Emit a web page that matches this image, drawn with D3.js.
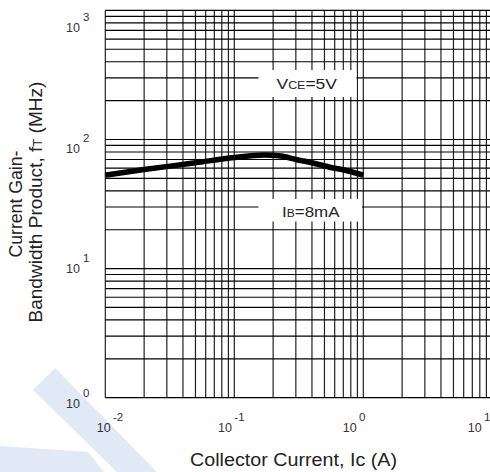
<!DOCTYPE html>
<html>
<head>
<meta charset="utf-8">
<script src="https://cdn.jsdelivr.net/npm/d3@7"></script>
<style>
  html, body { margin: 0; padding: 0; background: #fff; }
  svg { display: block; font-family: Arial, "Liberation Sans", Helvetica, sans-serif; }
</style>
</head>
<body>
<svg id="chart" width="490" height="472"></svg>
<script>
// ---- data ----
const icValues = [0.01, 0.02, 0.05, 0.1, 0.17, 0.23, 0.3, 0.4, 0.55, 0.75, 1.0];   // Collector current (A)
const ftValues = [53, 58.5, 66, 72.5, 76, 74.5, 70, 66, 61, 57.3, 53];               // fT (MHz)
const xTickExps = [-2, -1, 0, 1];
const yTickExps = [0, 1, 2, 3];
const xTitle = "Collector Current, Ic (A)";
const yTitleLine1 = "Current Gain-";
const yTitleLine2 = ["Bandwidth Product, f", "T", " (MHz)"];
const vceLabel = ["V", "CE", "=5V"];
const ibLabel = ["I", "B", "=8mA"];

const svg = d3.select("#chart");

// watermark shapes (light blue background decoration)
const wm = "#e1e8f6";
svg.append("polygon").attr("points", "55,368 33,390 117,472 157,472").attr("fill", wm);
svg.append("polygon").attr("points", "0,446 88,452 104,472 0,472").attr("fill", wm);

const x = d3.scaleLog().domain([0.01, 10]).range([105.3, 492.3]);
const y = d3.scaleLog().domain([1, 1000]).range([397.7, 10.4]);

const [x0, x1] = x.range();
const [yb, yt] = y.range();

const grid = svg.append("g");
// vertical grid lines
grid.selectAll("line.v").data(x.ticks()).join("line")
  .attr("x1", d => x(d)).attr("x2", d => x(d))
  .attr("y1", yt).attr("y2", yb)
  .attr("stroke", "#222").attr("stroke-width", 1.2);
// horizontal grid lines
grid.selectAll("line.h").data(y.ticks()).join("line")
  .attr("x1", x0).attr("x2", x1)
  .attr("y1", d => y(d)).attr("y2", d => y(d))
  .attr("stroke", "#000").attr("stroke-width", 1.2);

// label boxes (white backgrounds)
svg.append("rect").attr("x", 258.5).attr("y", 70).attr("width", 98).attr("height", 27).attr("fill", "#fff");
svg.append("rect").attr("x", 258.5).attr("y", 199).attr("width", 103.5).attr("height", 22.5).attr("fill", "#fff");

// curve
const line = d3.line().x((d, i) => x(icValues[i])).y(d => y(d)).curve(d3.curveMonotoneX);
svg.append("path").datum(ftValues).attr("d", line)
  .attr("fill", "none").attr("stroke", "#000").attr("stroke-width", 5.5).attr("stroke-linecap", "butt");

// labels in chart
function subLabel(parts, xPos, yPos, len) {
  const t = svg.append("text").attr("x", xPos).attr("y", yPos).attr("fill", "#222")
    .attr("textLength", len).attr("lengthAdjust", "spacingAndGlyphs");
  t.append("tspan").attr("font-size", 15.5).text(parts[0]);
  t.append("tspan").attr("font-size", 11).text(parts[1]);
  t.append("tspan").attr("font-size", 15.5).text(parts[2]);
}
subLabel(vceLabel, 276.5, 89, 60.5);
subLabel(ibLabel, 282, 217, 57.5);

// y tick labels
const yLabelDy = {0: 10.6, 1: 4.6, 2: 13.4, 3: 21.6};
yTickExps.forEach(e => {
  const t = svg.append("text").attr("x", 66).attr("y", y(Math.pow(10, e)) + yLabelDy[e]).attr("fill", "#333");
  t.append("tspan").attr("font-size", 12.5).text("10");
  t.append("tspan").attr("font-size", 11.5).attr("dx", 3).attr("dy", -11).text(String(e));
});
// x tick labels
const xLabelDx = {"-2": -8.6, "-1": -16.3, "0": -20.6, "1": -24.6};
xTickExps.forEach(e => {
  const t = svg.append("text").attr("x", x(Math.pow(10, e)) + xLabelDx[e]).attr("y", 431.7).attr("fill", "#333");
  t.append("tspan").attr("font-size", 12.5).text("10");
  t.append("tspan").attr("font-size", 11.5).attr("dx", 2.4).attr("dy", -11).text(String(e));
});

// axis titles
svg.append("text").attr("x", 190).attr("y", 465.5).attr("font-size", 17.5).attr("fill", "#222")
  .attr("textLength", 207).attr("lengthAdjust", "spacingAndGlyphs").text(xTitle);

const yc = (yt + yb) / 2;
svg.append("text").attr("transform", `translate(22,${yc}) rotate(-90)`).attr("text-anchor", "middle")
  .attr("font-size", 17.5).attr("fill", "#222")
  .attr("textLength", 107).attr("lengthAdjust", "spacingAndGlyphs").text(yTitleLine1);
const t2 = svg.append("text").attr("transform", `translate(41.5,${yc - 2}) rotate(-90)`).attr("text-anchor", "middle")
  .attr("font-size", 17.5).attr("fill", "#222")
  .attr("textLength", 241).attr("lengthAdjust", "spacingAndGlyphs");
t2.append("tspan").text(yTitleLine2[0]);
t2.append("tspan").attr("font-size", 12).text(yTitleLine2[1]);
t2.append("tspan").text(yTitleLine2[2]);
</script>
</body>
</html>
